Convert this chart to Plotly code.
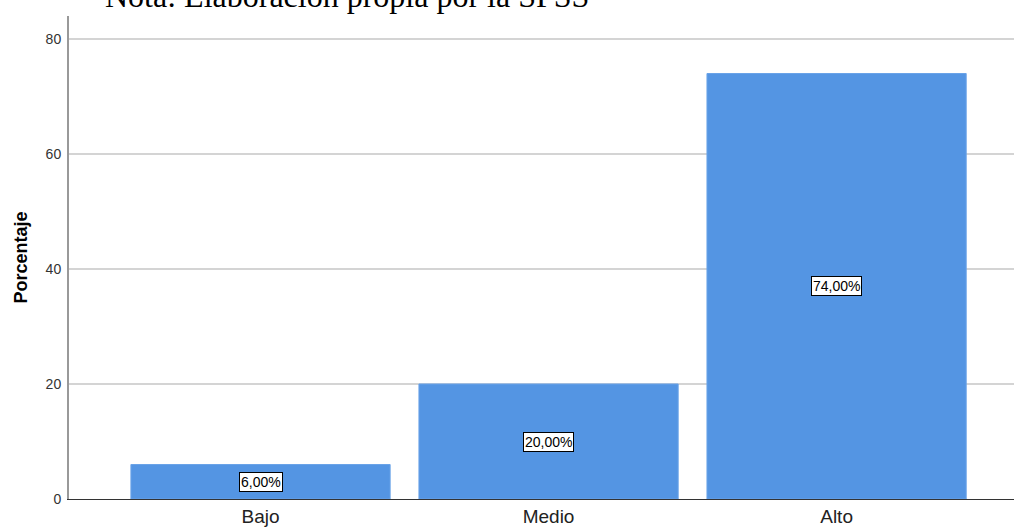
import plotly.graph_objects as go

categories = ["Bajo", "Medio", "Alto"]
values = [6.0, 20.0, 74.0]
labels = ["6,00%", "20,00%", "74,00%"]
y_ticks = [0, 20, 40, 60, 80]

fig = go.Figure()
fig.add_trace(go.Bar(
    x=categories, y=values,
    marker=dict(color="#5495E3", line=dict(color="#6aa3e8", width=1)),
    hoverinfo="skip",
))

for c, v, t in zip(categories, values, labels):
    fig.add_annotation(
        x=c, y=v / 2, text=t, showarrow=False,
        font=dict(family="Arial, Liberation Sans", size=14, color="black"),
        bgcolor="white", bordercolor="black", borderwidth=1, borderpad=1,
    )

fig.add_annotation(
    xref="paper", yref="paper", x=(103 - 69) / 945, y=1.0, xanchor="left", yanchor="middle",
    yshift=20,
    text="Nota: Elaboración propia por la SPSS", showarrow=False,
    font=dict(family="Liberation Serif, Times New Roman, serif", size=32, color="black"),
)

fig.add_annotation(
    xref="paper", yref="paper", x=(20 - 69) / 945, y=0.5, xanchor="center", yanchor="middle",
    text="<b>Porcentaje</b>", textangle=-90, showarrow=False,
    font=dict(family="Arial, Liberation Sans", size=18, color="black"),
)

fig.update_layout(
    width=1014, height=528,
    margin=dict(l=69, r=0, t=16, b=29),
    paper_bgcolor="white", plot_bgcolor="white",
    bargap=0.1,
    showlegend=False,
    xaxis=dict(
        range=[-0.665, 2.616], type="category",
        showline=True, linecolor="#333333", linewidth=1,
        showgrid=False, ticks="",
        tickfont=dict(family="Arial, Liberation Sans", size=19, color="#222222"),
    ),
    yaxis=dict(
        range=[0, 84], tickvals=y_ticks,
        showline=True, linecolor="#999999", linewidth=2,
        showgrid=True, gridcolor="#d4d4d4", gridwidth=1.5,
        zeroline=False, ticks="", ticklabelstandoff=3,
        tickfont=dict(family="Arial, Liberation Sans", size=14, color="#333333"),
    ),
)

fig.write_html("out.html")
